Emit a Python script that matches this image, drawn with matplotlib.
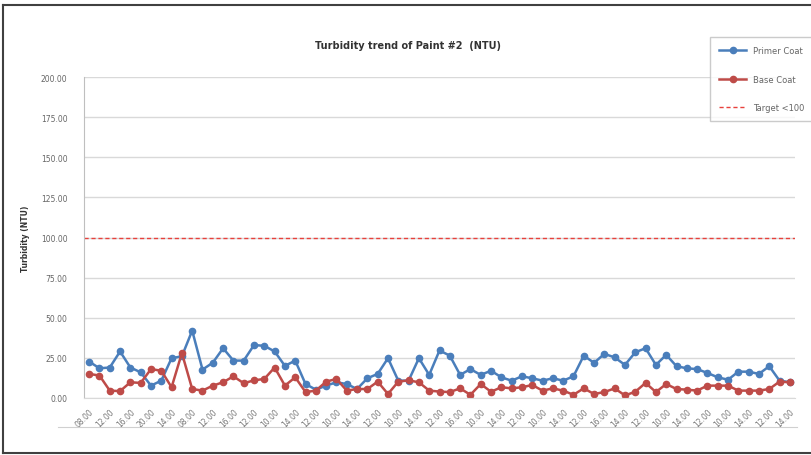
import matplotlib
matplotlib.use("Agg")
import matplotlib.pyplot as plt
from matplotlib.lines import Line2D

# values (NTU)
primer_coat = [22.7, 18.5, 19, 29, 19, 16, 7.7, 10.8, 24.8, 26, 42, 17.7, 22, 31, 23.3, 23.3,
               33, 32.5, 29, 20, 23.3, 8.7, 5.2, 7.7, 9.8, 8.7, 5.6, 12.3, 15, 24.8, 10.8, 10.8,
               24.8, 14.4, 29.6, 26.4, 14.4, 18, 14.4, 17, 12.9, 10.8, 13.5, 12.3, 10.8, 12.3,
               10.8, 13.5, 26.4, 21.9, 27.5, 25.3, 20.6, 28.5, 31, 20.6, 26.9, 19.8, 18.5, 18,
               15.6, 12.9, 11.4, 16.4, 16.4, 15, 19.8, 10.8, 9.8]
base_coat = [15, 14, 4.6, 4.3, 9.8, 9.4, 18, 17, 6.7, 28, 5.6, 4.6, 7.7, 9.8, 13.5, 9.2,
             11, 11.9, 19, 7.7, 12.9, 3.7, 4.6, 10.2, 11.9, 4.6, 5.6, 5.6, 10.2, 2.5, 10.2, 11,
             9.8, 4.6, 4, 3.7, 6, 2, 8.7, 3.9, 6.7, 6, 6.7, 8.1, 4.6, 6, 4.6, 2, 6, 2.5, 3.7,
             6, 1.6, 3.9, 9.4, 3.7, 8.7, 5.6, 5.2, 4.6, 7.7, 7.7, 7.7, 4.6, 4.6, 4.6, 5.6,
             10.2, 9.8]
target = 100
tick_labels = ["08.00", "12.00", "16.00", "20.00", "14.00", "08.00", "12.00", "16.00",
               "12.00", "10.00", "14.00", "12.00", "10.00", "14.00", "12.00", "10.00",
               "14.00", "12.00", "16.00", "10.00", "14.00", "12.00", "10.00", "14.00",
               "12.00", "16.00", "14.00", "12.00", "10.00", "14.00", "12.00", "10.00",
               "14.00", "12.00", "14.00"]
y_ticks = [0, 25, 50, 75, 100, 125, 150, 175, 200]

blue = "#4a7ebb"
red = "#be4b48"

fig = plt.figure(figsize=(8.12, 4.56), dpi=100)
ax = fig.add_axes([84 / 812, 57 / 456, 711 / 812, 321 / 456])

x = list(range(len(primer_coat)))
ax.plot(x, primer_coat, color=blue, lw=1.8, marker="o", ms=4.5, label="Primer Coat")
ax.plot(x, base_coat, color=red, lw=1.8, marker="o", ms=4.5, label="Base Coat")
ax.plot([-0.5, len(x) - 0.5], [target, target], color="#e8413c", lw=1.0, ls=(0, (3, 2)),
        label="Target <100")

ax.set_xlim(-0.5, len(x) - 0.5)
ax.set_ylim(0, 200)
ax.set_yticks(y_ticks)
ax.set_yticklabels(["%.2f" % v for v in y_ticks], fontsize=5.5, color="#666666")
ax.set_xticks(x[::2])
ax.set_xticklabels(tick_labels, rotation=45, ha="right", rotation_mode="anchor",
                   fontsize=5.5, color="#777777")
ax.tick_params(axis="both", length=0, pad=6)
ax.tick_params(axis="y", pad=12)
ax.grid(axis="y", color="#d9d9d9", lw=1.0)
ax.set_axisbelow(True)
for s in ["top", "right"]:
    ax.spines[s].set_visible(False)
ax.spines["left"].set_color("#bfbfbf")
ax.spines["bottom"].set_color("#d9d9d9")
ax.set_ylabel("Turbidity (NTU)", fontsize=5.5, fontweight="bold", color="#333333", labelpad=8)

fig.text(408 / 812, 1 - 46 / 456, "Turbidity trend of Paint #2  (NTU)", ha="center",
         va="center", fontsize=7, fontweight="bold", color="#333333")

leg = ax.legend(loc="upper left", bbox_to_anchor=(706 / 812, 1 - 34 / 456),
                bbox_transform=fig.transFigure, fontsize=6, frameon=True,
                fancybox=False, edgecolor="#bfbfbf", labelspacing=2.3,
                borderpad=1.1, handlelength=3.2)
for t in leg.get_texts():
    t.set_color("#666666")

# outer chart border (right side lies past the picture) and the rule under the tick labels
fig.add_artist(Line2D([3 / 812, 3 / 812], [1 - 6 / 456, 1 - 454 / 456], color="#404040", lw=1.5))
fig.add_artist(Line2D([3 / 812, 1], [1 - 6 / 456, 1 - 6 / 456], color="#404040", lw=1.5))
fig.add_artist(Line2D([3 / 812, 1], [1 - 454 / 456, 1 - 454 / 456], color="#404040", lw=1.5))
fig.add_artist(Line2D([58 / 812, 797 / 812], [1 - 428 / 456, 1 - 428 / 456], color="#d0d0d0", lw=0.8))

fig.savefig("out.png", dpi=100)
